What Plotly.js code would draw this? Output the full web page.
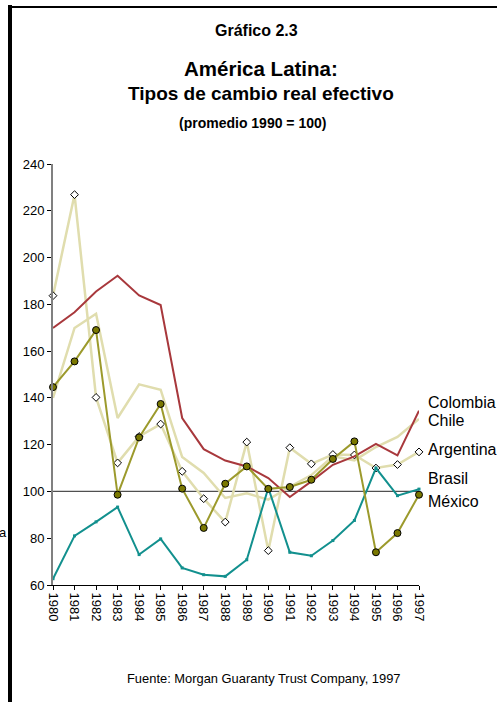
<!DOCTYPE html>
<html>
<head>
<meta charset="utf-8">
<script src="https://cdn.plot.ly/plotly-3.0.1.min.js"></script>
<style>
  html, body { margin: 0; padding: 0; background: #fff; }
  #wrap { position: relative; width: 497px; height: 702px; overflow: hidden; }
  #chart { position: absolute; left: 0; top: 0; width: 497px; height: 702px; }
  .bar-v { position: absolute; left: 8px; top: 5px; width: 4px; height: 702px; background: #000; }
  .bar-h { position: absolute; left: 8px; top: 6px; width: 490px; height: 2px; background: #000; }
</style>
</head>
<body>
<div id="wrap">
  <div id="chart"></div>
  <div class="bar-v"></div>
  <div class="bar-h"></div>
</div>
<script>
const years = [1980,1981,1982,1983,1984,1985,1986,1987,1988,1989,1990,1991,1992,1993,1994,1995,1996,1997];
const colombia  = [169.9,176.6,185.5,192.2,183.8,179.7,131.4,118.1,113.2,110.7,105.7,97.6,104.3,111.4,115.0,120.3,115.4,134.5];
const chile     = [140.0,169.9,176.0,131.4,145.8,143.5,114.7,107.9,97.2,99.2,96.5,102.0,107.0,115.0,113.3,119.0,123.3,131.0];
const argentina = [183.7,226.9,140.2,112.2,123.5,128.8,108.6,96.9,86.9,121.1,74.7,118.7,111.8,115.8,115.6,110.0,111.5,116.9];
const brasil    = [62.7,81.0,87.0,93.3,73.0,79.7,67.3,64.4,63.7,70.8,101.5,74.0,72.5,79.0,87.6,110.0,98.2,101.0];
const mexico    = [144.6,155.6,169.0,98.6,123.1,137.4,101.2,84.4,103.3,110.7,101.1,101.9,105.0,113.9,121.4,74.0,82.2,98.6];
const seriesNames = ['Colombia','Chile','Argentina','Brasil','México'];
const refValue = 100;

const titleLine1 = 'Gráfico 2.3';
const titleLine2 = 'América Latina:';
const titleLine3 = 'Tipos de cambio real efectivo';
const titleLine4 = '(promedio 1990 = 100)';
const sourceText = 'Fuente: Morgan Guaranty Trust Company, 1997';

const FONT = 'Liberation Sans, Arial, Helvetica, sans-serif';

const traces = [
  { x: years, y: chile, name: seriesNames[1], mode: 'lines', cliponaxis: false,
    line: { color: '#e0ddae', width: 2.5 } },
  { x: years, y: argentina, name: seriesNames[2], mode: 'lines+markers', cliponaxis: false,
    line: { color: '#e0ddae', width: 2.5 },
    marker: { symbol: 'diamond', size: 6, color: '#ffffff', line: { color: '#000000', width: 1 } } },
  { x: years, y: colombia, name: seriesNames[0], mode: 'lines', cliponaxis: false,
    line: { color: '#a8383c', width: 2 } },
  { x: years, y: brasil, name: seriesNames[3], mode: 'lines+markers', cliponaxis: false,
    line: { color: '#12908e', width: 2 },
    marker: { symbol: 'square', size: 3, color: '#12908e' } },
  { x: years, y: mexico, name: seriesNames[4], mode: 'lines+markers', cliponaxis: false,
    line: { color: '#9c9a2c', width: 2 },
    marker: { symbol: 'circle', size: 7, color: '#7a7800', line: { color: '#000000', width: 1 } } }
];

const labelY = { 'Colombia': 403, 'Chile': 421, 'Argentina': 450, 'Brasil': 479, 'México': 502 };

const M = { l: 53.3, r: 77.7, t: 164.3, b: 116.7 };
const PW = 497 - M.l - M.r, PH = 702 - M.t - M.b;
function ypix(py) { return (702 - M.b - py) / PH; }
function xpix(px) { return (px - M.l) / PW; }

const annotations = [
  { text: '<b>' + titleLine1 + '</b>', x: xpix(257), y: ypix(31), font: { size: 16, color: '#000', family: FONT } },
  { text: '<b>' + titleLine2 + '</b>', x: xpix(261), y: ypix(69), font: { size: 20.5, color: '#000', family: FONT } },
  { text: '<b>' + titleLine3 + '</b>', x: xpix(261), y: ypix(94), font: { size: 19, color: '#000', family: FONT } },
  { text: '<b>' + titleLine4 + '</b>', x: xpix(253), y: ypix(123), font: { size: 14, color: '#000', family: FONT } },
  { text: sourceText, x: xpix(264), y: ypix(679), font: { size: 12.9, color: '#000', family: FONT } },
  { text: 'a', x: xpix(3), y: ypix(533), font: { size: 13, color: '#000', family: FONT } }
].map(a => Object.assign({ xref: 'paper', yref: 'paper', showarrow: false, xanchor: 'center', yanchor: 'middle' }, a));

seriesNames.forEach(n => {
  annotations.push({ text: n, xref: 'paper', yref: 'paper', x: xpix(426), y: ypix(labelY[n]),
    xanchor: 'left', yanchor: 'middle', showarrow: false, font: { size: 16, color: '#000', family: FONT } });
});

const layout = {
  width: 497, height: 702,
  margin: { l: M.l, r: M.r, t: M.t, b: M.b, pad: 0 },
  paper_bgcolor: '#ffffff', plot_bgcolor: '#ffffff',
  showlegend: false,
  font: { family: FONT, color: '#000' },
  xaxis: {
    range: [years[0], years[years.length - 1]],
    tickvals: years, ticktext: years.map(String), tickangle: 90,
    showgrid: false, zeroline: false,
    showline: true, linecolor: '#000', linewidth: 1,
    ticks: 'outside', ticklen: 4, tickcolor: '#000', tickwidth: 1,
    tickfont: { size: 13, color: '#000', family: FONT }
  },
  yaxis: {
    range: [60, 240], tickvals: [60,80,100,120,140,160,180,200,220,240],
    showgrid: false, zeroline: false,
    showline: true, linecolor: '#808080', linewidth: 2,
    ticks: 'outside', ticklen: 4, tickcolor: '#000', tickwidth: 1,
    tickfont: { size: 13, color: '#000', family: FONT }
  },
  shapes: [
    { type: 'line', xref: 'paper', yref: 'y', x0: 0, x1: 1, y0: refValue, y1: refValue,
      line: { color: '#505050', width: 1.2 }, layer: 'below' }
  ],
  annotations: annotations
};

Plotly.newPlot('chart', traces, layout, { staticPlot: true, displayModeBar: false });
</script>
</body>
</html>
